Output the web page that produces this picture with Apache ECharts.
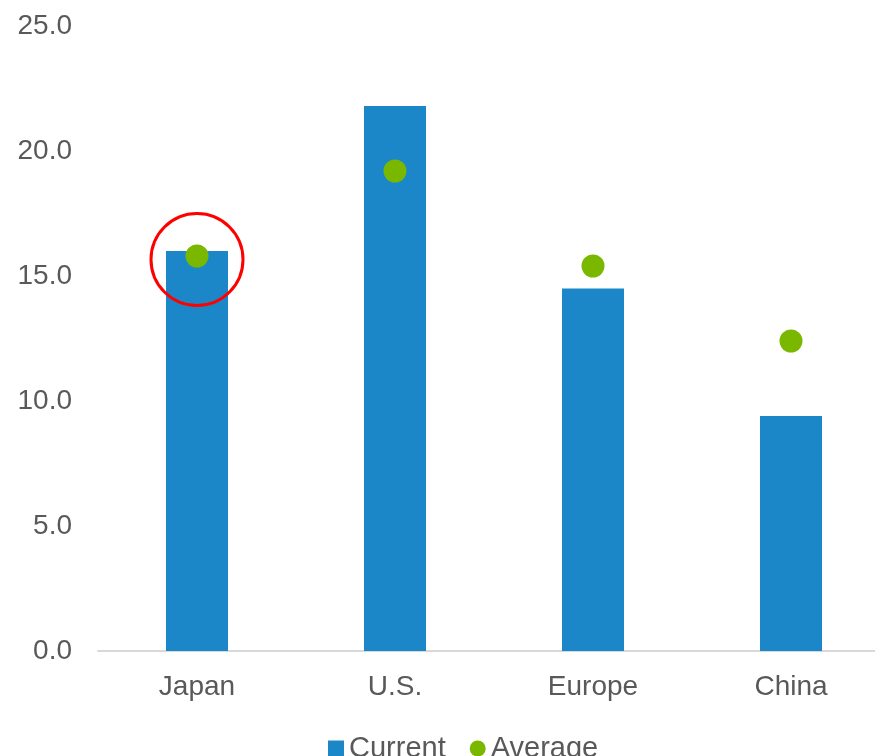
<!DOCTYPE html>
<html>
<head>
<meta charset="utf-8">
<script src="https://cdn.jsdelivr.net/npm/echarts@6/dist/echarts.min.js"></script>
<style>
  html, body { margin: 0; padding: 0; background: #fff; overflow: hidden; }
  /* plot area runs past the right edge of the picture, so the div is a bit wider than the window */
  #chart { width: 890px; height: 756px; }
</style>
</head>
<body>
<div id="chart"></div>
<script>
// values
const categories = ['Japan', 'U.S.', 'Europe', 'China']
const currentVals = [16.0, 21.8, 14.5, 9.4]
const averageVals = [15.8, 19.2, 15.4, 12.4]
// red highlight ring around Japan
const highlight = [['Japan', 15.66]]

const labelColor = '#595959'
const font = 'Liberation Sans, Arial, sans-serif'

const chart = echarts.init(document.getElementById('chart'))

const option = {
  animation: false,
  grid: { left: 98, top: 26, right: 0, bottom: 105, containLabel: false },
  legend: {
    left: 323,
    top: 729,
    itemGap: 24,
    itemWidth: 16,
    itemHeight: 16,
    textStyle: { color: labelColor, fontSize: 29, fontFamily: font },
    data: [
      { name: 'Current', icon: 'rect' },
      { name: 'Average', icon: 'circle' }
    ]
  },
  xAxis: {
    type: 'category',
    data: categories,
    axisLine: { lineStyle: { color: '#d9d9d9', width: 2 } },
    axisTick: { show: false },
    axisLabel: { color: labelColor, fontSize: 28, fontFamily: font, margin: 22 }
  },
  yAxis: {
    type: 'value',
    min: 0,
    max: 25,
    interval: 5,
    splitLine: { show: false },
    axisLine: { show: false },
    axisTick: { show: false },
    axisLabel: {
      color: labelColor, fontSize: 28, fontFamily: font, margin: 26,
      formatter: v => v.toFixed(1)
    }
  },
  series: [
    {
      name: 'Current',
      type: 'bar',
      data: currentVals,
      barWidth: 62,
      itemStyle: { color: '#1b87c9' }
    },
    {
      name: 'Average',
      type: 'scatter',
      data: averageVals,
      symbol: 'circle',
      symbolSize: 23,
      itemStyle: { color: '#7ab800', opacity: 1 }
    },
    {
      name: 'ring',
      type: 'scatter',
      data: highlight,
      symbol: 'circle',
      symbolSize: 92,
      silent: true,
      z: 5,
      itemStyle: { color: 'rgba(0,0,0,0)', borderColor: '#ff0000', borderWidth: 3, opacity: 1 }
    }
  ]
}

chart.setOption(option)
</script>
</body>
</html>
